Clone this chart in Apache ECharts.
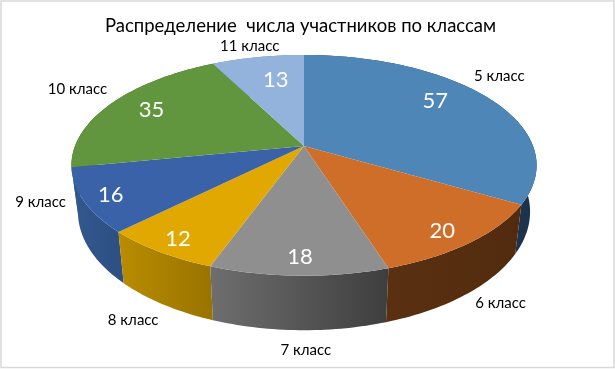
<!DOCTYPE html>
<html>
<head>
<meta charset="utf-8">
<style>html,body{margin:0;padding:0;background:#fff}#c{width:615px;height:369px}</style>
<script src="https://cdn.jsdelivr.net/npm/echarts@6/dist/echarts.min.js"></script>
</head>
<body>
<div id="c"></div>
<script>
const chartTitle = 'Распределение  числа участников по классам';
const categories = ['5 класс','6 класс','7 класс','8 класс','9 класс','10 класс','11 класс'];
const values = [57,20,18,12,16,35,13];

const topColors = ['#4e86b8','#cf6e28','#8f8f8f','#e0a800','#3a62a8','#62963e','#93b3dc'];
const wallColors = [['#24466a','#1b324c'],['#5a3011','#522b0e'],['#6e6e6e','#3e3e3e'],['#b98c00','#997300'],['#33588f','#2d4f82'],['#41652a','#41652a'],['#6384ad','#6384ad']];
const valueNudge = [[-17,-5],[9,10],[0,11],[-14,11],[-20,6],[3,-1],[10,7]];
const nameNudge = [[13,-21],[30,61],[7,74],[-26,68],[-43,2],[-35,-14],[-8,-11]];

const FONT = 'Lato, "Noto Sans", sans-serif';
const cx = 304, cy = 146, A = 229, B = 107, K = 0.175, H = 45, BOTTOM_X = 0.972;
const total = values.reduce((a,b)=>a+b,0);
const starts = []; values.reduce((acc,v,i)=>{starts[i]=acc;return acc+v;},0);
const ang = v => v/total*2*Math.PI;

function project(theta, r, down){
  const d = r*Math.cos(theta), s = 1/(1+K*d);
  let x = A*r*Math.sin(theta)*s, y = -B*r*Math.cos(theta)*s;
  if(down){ x *= BOTTOM_X; y += H*s; }
  return [cx+x, cy+y];
}
function arc(t0,t1,down){
  const n = Math.max(2,Math.ceil((t1-t0)/0.02)), pts=[];
  for(let i=0;i<=n;i++) pts.push(project(t0+(t1-t0)*i/n,1,down));
  return pts;
}
function wallItem(params, api){
  const i = params.dataIndex, t0 = ang(starts[i]), t1 = ang(starts[i]+api.value(0));
  const pts = arc(t0,t1,false).concat(arc(t0,t1,true).reverse());
  return {type:'polygon', z2: Math.round(-Math.cos((t0+t1)/2)*10)+20, shape:{points:pts},
    style:{fill:new echarts.graphic.LinearGradient(0,0,1,0,[{offset:0,color:wallColors[i][0]},{offset:1,color:wallColors[i][1]}])}};
}
function topItem(params, api){
  const i = params.dataIndex, t0 = ang(starts[i]), t1 = ang(starts[i]+api.value(0)), m=(t0+t1)/2;
  const pts = [[cx,cy]].concat(arc(t0,t1,false));
  const vp = project(m,0.8,false), np = project(m,1,false);
  return {type:'group', children:[
    {type:'polygon', shape:{points:pts}, style:{fill:topColors[i]}},
    {type:'text', z2:10, style:{text:String(api.value(0)), x:vp[0]+valueNudge[i][0], y:vp[1]+valueNudge[i][1],
      fill:'#fff', font:'22px '+FONT, align:'center', verticalAlign:'middle'}},
    {type:'text', z2:10, style:{text:categories[i], x:np[0]+nameNudge[i][0], y:np[1]+nameNudge[i][1],
      fill:'#000', font:'15px '+FONT, align:'center', verticalAlign:'middle'}}
  ]};
}
const chart = echarts.init(document.getElementById('c'),null,{renderer:'canvas'});
chart.setOption({
  animation:false,
  backgroundColor:'#fff',
  title:{text:chartTitle,left:100,top:12,textStyle:{fontFamily:FONT,fontSize:18.5,fontWeight:'normal',color:'#000'}},
  graphic:[{type:'rect',silent:true,z:-1,shape:{x:1,y:1,width:613,height:366.5},style:{fill:'none',stroke:'#d9d9d9',lineWidth:1.5}}],
  series:[
    {type:'custom',coordinateSystem:'none',silent:true,z:2,renderItem:wallItem,data:values},
    {type:'custom',coordinateSystem:'none',silent:true,z:3,renderItem:topItem,data:values}
  ]
});
</script>
</body>
</html>
